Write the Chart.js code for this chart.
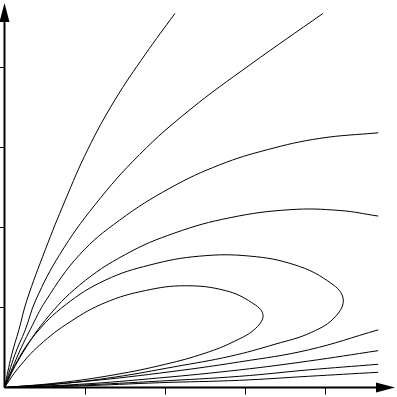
<!DOCTYPE html>
<html>
<head>
<meta charset="utf-8">
<script src="https://cdn.jsdelivr.net/npm/chart.js@4/dist/chart.umd.min.js"></script>
<style>
  html, body { margin: 0; padding: 0; background: #fff; }
  #wrap { width: 397px; height: 397px; }
</style>
</head>
<body>
<div id="wrap"><canvas id="phase"></canvas></div>
<script>
// trajectories (axis units, one tick = 1)
const c1x = [0, 0.09, 0.18, 0.28, 0.51, 0.76, 1.04, 1.38, 1.76, 2.13];
const c1y = [0, 0.41, 0.72, 1.09, 1.72, 2.34, 2.97, 3.59, 4.16, 4.67];

const c2x = [0, 0.13, 0.26, 0.39, 0.69, 1.13, 1.69, 2.32, 3.07, 3.98];
const c2y = [0, 0.41, 0.72, 1.09, 1.66, 2.28, 2.91, 3.47, 4.03, 4.67];

const c3x = [0, 0.17, 0.32, 0.52, 0.94, 1.44, 2.07, 2.69, 3.29, 3.94, 4.67];
const c3y = [0, 0.41, 0.72, 1.09, 1.66, 2.09, 2.49, 2.78, 2.97, 3.11, 3.18];

const c4x = [0, 0.19, 0.51, 0.94, 1.51, 2.13, 2.82, 3.57, 4.19, 4.67];
const c4y = [0, 0.37, 0.84, 1.28, 1.66, 1.93, 2.12, 2.22, 2.21, 2.14];

const loop1x = [0, 0.13, 0.38, 0.76, 1.26, 1.82, 2.44, 3.07, 3.63, 4.04, 4.23, 4.14, 3.84, 3.38, 2.82, 2.13, 1.38, 0.63, 0];
const loop1y = [0, 0.28, 0.66, 1.03, 1.34, 1.53, 1.64, 1.64, 1.53, 1.33, 1.12, 0.89, 0.69, 0.54, 0.39, 0.26, 0.13, 0.04, 0];

const loop2x = [0, 0.17, 0.44, 0.82, 1.26, 1.76, 2.26, 2.76, 3.09, 3.23, 3.14, 2.88, 2.51, 2.01, 1.38, 0.69, 0];
const loop2y = [0, 0.24, 0.53, 0.82, 1.06, 1.21, 1.27, 1.21, 1.06, 0.91, 0.74, 0.58, 0.43, 0.29, 0.16, 0.06, 0];

const lowX = [0, 0.94, 1.94, 2.94, 3.8, 4.67];
const low1y = [0, 0.07, 0.18, 0.32, 0.47, 0.72];
const low2y = [0, 0.04, 0.12, 0.22, 0.33, 0.46];
const low3y = [0, 0.03, 0.08, 0.14, 0.22, 0.29];
const low4y = [0, 0.02, 0.06, 0.09, 0.14, 0.19];

const xTicks = [1, 2, 3, 4];
const yTicks = [1, 2, 3, 4];

function pts(xs, ys){ return xs.map((x, i) => ({ x: x, y: ys[i] })); }

const curves = [
  pts(c1x, c1y), pts(c2x, c2y), pts(c3x, c3y), pts(c4x, c4y),
  pts(loop1x, loop1y), pts(loop2x, loop2y),
  pts(lowX, low1y), pts(lowX, low2y), pts(lowX, low3y), pts(lowX, low4y)
];

// axes with arrow heads and short tick marks
const arrowAxes = {
  id: 'arrowAxes',
  afterDatasetsDraw(chart){
    const ctx = chart.ctx;
    const sx = chart.scales.x, sy = chart.scales.y;
    const ox = sx.getPixelForValue(0), oy = sy.getPixelForValue(0);
    const right = 395, top = 3;
    ctx.save();
    ctx.strokeStyle = '#000';
    ctx.fillStyle = '#000';
    ctx.lineWidth = 2;
    ctx.beginPath();
    ctx.moveTo(ox, oy); ctx.lineTo(right - 10, oy);
    ctx.moveTo(ox, oy); ctx.lineTo(ox, top + 10);
    ctx.stroke();
    // arrow heads
    ctx.beginPath();
    ctx.moveTo(right, oy); ctx.lineTo(right - 19, oy - 5); ctx.lineTo(right - 19, oy + 5);
    ctx.closePath(); ctx.fill();
    ctx.beginPath();
    ctx.moveTo(ox, top); ctx.lineTo(ox - 5, top + 19); ctx.lineTo(ox + 5, top + 19);
    ctx.closePath(); ctx.fill();
    // ticks
    ctx.lineWidth = 1;
    ctx.beginPath();
    xTicks.forEach(v => {
      const px = Math.round(sx.getPixelForValue(v)) + 0.5;
      ctx.moveTo(px, oy); ctx.lineTo(px, oy + 7);
    });
    yTicks.forEach(v => {
      const py = Math.round(sy.getPixelForValue(v)) + 0.5;
      ctx.moveTo(ox, py); ctx.lineTo(ox - 6, py);
    });
    ctx.stroke();
    ctx.restore();
  }
};

new Chart(document.getElementById('phase'), {
  type: 'scatter',
  data: {
    datasets: curves.map(d => ({
      data: d,
      showLine: true,
      borderColor: '#000',
      borderWidth: 1,
      pointRadius: 0,
      tension: 0.4,
      clip: false
    }))
  },
  options: {
    responsive: true,
    maintainAspectRatio: false,
    animation: false,
    layout: { padding: { left: 4.5, top: 3, right: 2, bottom: 9.5 } },
    plugins: { legend: { display: false }, tooltip: { enabled: false } },
    events: [],
    scales: {
      x: { type: 'linear', display: false, min: 0, max: 4.88 },
      y: { type: 'linear', display: false, min: 0, max: 4.8 }
    }
  },
  plugins: [arrowAxes]
});
</script>
</body>
</html>
